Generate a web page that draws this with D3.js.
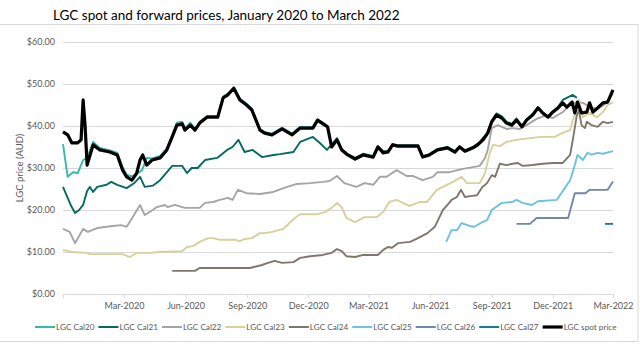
<!DOCTYPE html>
<html>
<head>
<meta charset="utf-8">
<script src="https://cdn.jsdelivr.net/npm/d3@7"></script>
<style>
  body { margin: 0; background: #fff; }
  svg { display: block; font-family: Lato, "Open Sans", sans-serif; }
</style>
</head>
<body>
<div class="chart"></div>
<script>
// LGC spot and forward prices

const title = "LGC spot and forward prices, January 2020 to March 2022";
const yTicks = [0, 10, 20, 30, 40, 50, 60];
const xTicks = ["2019-12-01", "2020-03-01", "2020-06-01", "2020-09-01", "2020-12-01",
  "2021-03-01", "2021-06-01", "2021-09-01", "2021-12-01", "2022-03-01"];
const seriesNames = ["LGC Cal20", "LGC Cal21", "LGC Cal22", "LGC Cal23", "LGC Cal24",
  "LGC Cal25", "LGC Cal26", "LGC Cal27", "LGC spot price"];
const seriesColors = ["#35b9ab", "#046b5f", "#a5a5a5", "#d6d19c", "#7f776c",
  "#6dc3db", "#7387a7", "#1b7d93", "#000000"];

const cal20 = [["2019-12-01",35.7],["2019-12-08",27.9],["2019-12-16",29],["2019-12-23",28.8],["2019-12-31",31.9],
  ["2020-01-06",32.4],["2020-01-15",36.2],["2020-01-25",34.8],["2020-02-09",34.2],["2020-02-20",33.6],
  ["2020-02-28",30.2],["2020-03-05",28.4],["2020-03-13",28],["2020-03-20",28.6],["2020-03-28",29.5],
  ["2020-04-04",32.4],["2020-04-12",32.3],["2020-04-24",32.9],["2020-05-04",34.7],["2020-05-12",37.8],
  ["2020-05-19",40.8],["2020-05-27",41],["2020-05-31",39.5],["2020-06-08",40.8],["2020-06-15",39.4],
  ["2020-06-22",41],["2020-07-03",42.4],["2020-07-19",42.4],["2020-07-27",47],["2020-08-03",47.7],
  ["2020-08-12",49.2],["2020-08-21",46.6],["2020-08-31",45.3],["2020-09-08",44.1],["2020-09-20",39.3],
  ["2020-09-27",38.6],["2020-10-08",38.2],["2020-10-23",39.6],["2020-11-07",38.2],["2020-11-19",39.8],
  ["2020-12-08",39.8],["2020-12-15",41.6],["2020-12-26",40.5],["2020-12-30",40]];

const cal21 = [["2019-12-01",25.5],["2019-12-05",24],["2019-12-13",21],["2019-12-19",19.3],["2019-12-25",20],
  ["2019-12-31",21.2],["2020-01-06",24.5],["2020-01-10",25.5],["2020-01-15",24.3],["2020-01-21",25.5],
  ["2020-02-04",26],["2020-02-11",26.7],["2020-02-20",26],["2020-03-05",25.2],["2020-03-17",26.5],
  ["2020-03-25",27.9],["2020-04-01",25.5],["2020-04-13",25.8],["2020-04-24",27.1],["2020-05-12",30.5],
  ["2020-05-27",30.5],["2020-06-03",28.8],["2020-06-10",30],["2020-06-19",30],["2020-06-30",31.9],
  ["2020-07-18",32.4],["2020-08-02",34.3],["2020-08-10",35],["2020-08-19",36.7],["2020-08-28",33.8],
  ["2020-09-09",34.3],["2020-09-23",32.6],["2020-10-10",33.1],["2020-10-20",33.3],["2020-11-09",33.8],
  ["2020-11-19",36.2],["2020-12-08",37.4],["2020-12-18",36],["2020-12-29",34.3],["2021-01-13",37.1],
  ["2021-01-20",34.5],["2021-01-29",33.3],["2021-02-09",32.4],["2021-02-21",33.4],["2021-03-08",32.8],
  ["2021-03-15",35.2],["2021-03-23",34],["2021-03-30",34],["2021-04-06",35.7],["2021-04-14",35.4],
  ["2021-05-14",35.4],["2021-05-21",32.8],["2021-05-31",33.3],["2021-06-12",34.5],["2021-06-27",35],
  ["2021-07-08",34],["2021-07-15",35.2],["2021-07-23",34.2],["2021-08-04",35],["2021-08-14",36.2],
  ["2021-08-26",38.5],["2021-09-01",41.3],["2021-09-08",43],["2021-09-16",42.3],["2021-09-23",41],
  ["2021-10-01",40.5],["2021-10-08",41.8],["2021-10-16",40],["2021-10-23",41.6],["2021-11-01",42.8],
  ["2021-11-09",44.5],["2021-11-16",43.3],["2021-11-24",42.3],["2021-12-01",43.5],["2021-12-09",44.5],
  ["2021-12-16",46.2],["2021-12-31",47.4],["2022-01-06",46.7]];

const cal22 = [["2019-12-01",15.5],["2019-12-11",14.8],["2019-12-19",12.1],["2019-12-31",15.5],["2020-01-07",14.8],
  ["2020-01-21",15.7],["2020-02-13",16.2],["2020-02-26",16.4],["2020-03-05",16],["2020-03-14",18.3],
  ["2020-03-25",21.2],["2020-04-01",18.8],["2020-04-13",20],["2020-04-19",20.7],["2020-05-01",21.2],
  ["2020-05-05",20.7],["2020-05-16",21.2],["2020-05-31",20.5],["2020-06-22",20.5],["2020-06-30",21.7],
  ["2020-07-12",21.9],["2020-07-22",22.4],["2020-08-03",22.9],["2020-08-10",22.4],["2020-08-18",24.8],
  ["2020-08-31",24],["2020-09-20",23.8],["2020-10-10",24.3],["2020-10-25",25.2],["2020-11-14",26.2],
  ["2020-12-04",26.4],["2020-12-23",26.7],["2021-01-02",26.9],["2021-01-13",28.1],["2021-01-24",26.4],
  ["2021-02-11",25.5],["2021-02-23",26.4],["2021-03-08",26],["2021-03-18",27.9],["2021-03-28",27.9],
  ["2021-04-12",29.5],["2021-04-27",28.1],["2021-05-06",28.1],["2021-05-21",27.1],["2021-06-05",27.9],
  ["2021-06-12",29],["2021-06-30",29],["2021-07-20",29.8],["2021-08-04",30.2],["2021-08-14",30.5],
  ["2021-08-22",32.4],["2021-08-26",34.3],["2021-09-01",39.5],["2021-09-10",40.2],["2021-09-23",39.3],
  ["2021-10-02",39.5],["2021-10-13",39.3],["2021-10-23",40.2],["2021-11-07",41.7],["2021-11-20",42.5],
  ["2021-12-01",41.9],["2021-12-16",43.3],["2021-12-27",45],["2022-01-06",45.7],["2022-01-15",45.5],
  ["2022-01-25",44.6],["2022-02-06",44],["2022-02-17",45.2],["2022-03-01",47.8]];

const cal23 = [["2019-12-01",10.5],["2019-12-14",10],["2020-01-06",9.8],["2020-01-10",9.5],["2020-02-28",9.5],
  ["2020-03-10",8.8],["2020-03-20",9.8],["2020-04-09",9.8],["2020-04-24",10],["2020-05-27",10.2],
  ["2020-06-03",11.2],["2020-06-12",11.4],["2020-06-22",12.4],["2020-07-05",13.3],["2020-07-12",13.3],
  ["2020-07-22",12.9],["2020-08-14",12.9],["2020-08-21",12.6],["2020-08-28",13.1],["2020-09-08",13.3],
  ["2020-09-20",14.5],["2020-09-27",14.5],["2020-10-08",14.8],["2020-10-25",15.5],["2020-11-03",16.9],
  ["2020-11-11",18.1],["2020-11-19",19],["2020-12-15",19],["2020-12-26",19.5],["2021-01-05",20.5],
  ["2021-01-13",21.7],["2021-01-20",20.7],["2021-01-27",18.1],["2021-02-09",17.1],["2021-02-23",18.3],
  ["2021-03-13",18.3],["2021-03-23",19.5],["2021-04-01",21.9],["2021-04-12",22.4],["2021-05-01",21],
  ["2021-05-16",21.9],["2021-05-27",21.9],["2021-06-05",23.6],["2021-06-11",24.8],["2021-06-20",25.5],
  ["2021-07-05",26.7],["2021-07-18",27.9],["2021-07-26",26.4],["2021-08-14",26.4],["2021-08-22",28.8],
  ["2021-08-29",33.6],["2021-09-03",35.5],["2021-09-13",35.2],["2021-09-23",36.2],["2021-10-08",36.7],
  ["2021-10-28",37.1],["2021-11-14",37.4],["2021-12-04",37.4],["2021-12-15",38.3],["2021-12-27",39],
  ["2021-12-31",41.4],["2022-01-06",44],["2022-01-09",46.2],["2022-01-15",42.1],["2022-01-25",43.1],
  ["2022-02-05",42.1],["2022-02-14",43.3],["2022-02-21",45],["2022-03-01",45.6]];

const cal24 = [["2020-05-12",5.5],["2020-06-15",5.5],["2020-06-22",6.2],["2020-09-05",6.2],["2020-09-23",6.9],
  ["2020-10-02",7.4],["2020-10-12",7.9],["2020-10-23",7.4],["2020-11-09",7.6],["2020-11-19",8.6],
  ["2020-12-04",9],["2020-12-23",9.3],["2021-01-05",9.8],["2021-01-13",10.7],["2021-01-20",10.2],
  ["2021-01-27",9],["2021-02-09",8.8],["2021-02-21",9.3],["2021-03-15",9.3],["2021-03-23",10.5],
  ["2021-03-30",11.2],["2021-04-05",11],["2021-04-14",12.1],["2021-05-02",12.4],["2021-05-14",13.3],
  ["2021-05-28",14.5],["2021-06-08",16],["2021-06-15",18.3],["2021-06-20",20],["2021-06-27",21.2],
  ["2021-07-03",22.4],["2021-07-11",23.1],["2021-07-17",24.8],["2021-07-23",23.1],["2021-07-31",23.3],
  ["2021-08-10",23.5],["2021-08-18",25.5],["2021-08-25",26.4],["2021-09-01",28.3],["2021-09-06",27.9],
  ["2021-09-13",31],["2021-09-23",30.7],["2021-10-02",31],["2021-10-10",31.2],["2021-10-17",30.5],
  ["2021-11-01",30.7],["2021-11-16",31],["2021-12-01",31.2],["2021-12-16",31.2],["2021-12-27",33.1],
  ["2021-12-31",36.7],["2022-01-06",42.6],["2022-01-09",43.8],["2022-01-13",40.2],["2022-01-18",39.5],
  ["2022-01-21",41],["2022-01-28",40.2],["2022-02-06",39.8],["2022-02-14",41],["2022-02-21",40.7],
  ["2022-03-01",41]];

const cal25 = [["2021-06-25",12.4],["2021-07-03",15.2],["2021-07-11",15.2],["2021-07-18",16.9],["2021-07-30",16.2],
  ["2021-08-06",16],["2021-08-18",17.1],["2021-08-25",17.6],["2021-09-01",20],["2021-09-16",21.7],
  ["2021-10-01",21.9],["2021-10-08",22.4],["2021-10-17",21.7],["2021-10-31",21.2],["2021-11-09",22.1],
  ["2021-12-07",22.4],["2021-12-16",24.5],["2021-12-27",27.1],["2022-01-03",30.7],["2022-01-07",33.1],
  ["2022-01-15",31.9],["2022-01-22",33.6],["2022-01-28",33.2],["2022-02-06",33.6],["2022-02-14",33.4],
  ["2022-03-01",34]];

const cal26 = [["2021-10-08",16.7],["2021-10-28",16.7],["2021-11-07",18.1],["2021-12-24",18.1],["2022-01-03",24],
  ["2022-01-19",24],["2022-01-25",24.8],["2022-02-21",24.8],["2022-03-01",26.8]];

const cal27 = [["2022-02-17",16.7],["2022-03-01",16.7]];

const spot = [["2019-12-01",38.6],["2019-12-08",37.9],["2019-12-14",36],["2019-12-23",36],["2019-12-28",36.7],
  ["2019-12-31",46.2],["2020-01-03",40],["2020-01-06",30.7],["2020-01-15",35.5],["2020-01-25",34.3],
  ["2020-02-09",33.8],["2020-02-20",33.1],["2020-02-28",29.5],["2020-03-05",27.9],["2020-03-13",27.1],
  ["2020-03-20",28.8],["2020-03-25",31.9],["2020-03-29",33.1],["2020-04-04",30.7],["2020-04-12",31.9],
  ["2020-04-24",32.4],["2020-05-04",34.3],["2020-05-12",37.4],["2020-05-19",40.2],["2020-05-27",40.5],
  ["2020-05-31",39],["2020-06-08",40.2],["2020-06-15",39],["2020-06-22",40.7],["2020-07-03",42.1],
  ["2020-07-19",42.1],["2020-07-27",46.7],["2020-08-03",47.4],["2020-08-12",49],["2020-08-21",46.2],
  ["2020-08-31",45],["2020-09-08",43.8],["2020-09-20",39],["2020-09-27",38.3],["2020-10-08",37.9],
  ["2020-10-23",39.3],["2020-11-07",37.9],["2020-11-19",39.5],["2020-12-08",39.5],["2020-12-15",41.4],
  ["2020-12-26",40.2],["2020-12-30",39.8],["2021-01-05",35],["2021-01-13",36.7],["2021-01-20",34.3],
  ["2021-01-29",33.1],["2021-02-09",32.1],["2021-02-21",33.1],["2021-03-08",32.6],["2021-03-15",35],
  ["2021-03-23",33.6],["2021-03-30",33.8],["2021-04-06",35.5],["2021-04-14",35.2],["2021-05-14",35.2],
  ["2021-05-21",32.6],["2021-05-31",33.1],["2021-06-12",34.3],["2021-06-27",34.8],["2021-07-08",33.8],
  ["2021-07-15",35],["2021-07-23",34],["2021-08-04",34.8],["2021-08-11",35.5],["2021-08-19",36.7],
  ["2021-08-26",38.3],["2021-09-01",41],["2021-09-08",42.6],["2021-09-16",41.9],["2021-09-23",40.7],
  ["2021-10-01",40.2],["2021-10-08",41.4],["2021-10-16",39.8],["2021-10-23",41.4],["2021-11-01",42.6],
  ["2021-11-09",44.3],["2021-11-16",43.1],["2021-11-24",42.1],["2021-12-01",43.3],["2021-12-09",44.3],
  ["2021-12-16",45.5],["2021-12-22",44.5],["2021-12-30",45.7],["2022-01-03",43.1],["2022-01-07",45.7],
  ["2022-01-13",43.1],["2022-01-21",43.3],["2022-01-25",45.5],["2022-01-30",43.3],["2022-02-06",44.3],
  ["2022-02-14",45.5],["2022-02-21",45.7],["2022-03-01",48.6]];

const allSeries = [cal20, cal21, cal22, cal23, cal24, cal25, cal26, cal27, spot];

const width = 640, height = 348;
const parse = d3.timeParse("%Y-%m-%d");

const svg = d3.select(".chart").append("svg")
    .attr("width", width)
    .attr("height", height);

// frame round the chart
svg.append("rect")
    .attr("x", -2).attr("y", 24.5)
    .attr("width", 640).attr("height", 317)
    .attr("fill", "none")
    .attr("stroke", "#d9d9d9");

svg.append("text")
    .attr("x", 53).attr("y", 20)
    .attr("font-size", 13.5)
    .attr("fill", "#000")
    .text(title);

const x = d3.scaleTime()
    .domain([parse(xTicks[0]), parse(xTicks[xTicks.length - 1])])
    .range([63, 613]);
const y = d3.scaleLinear().domain([0, 60]).range([294, 42]);

// gridlines + y labels
const yAxis = svg.append("g")
    .attr("transform", "translate(63,0)")
    .call(d3.axisLeft(y).tickValues(yTicks).tickSize(-550).tickPadding(8)
        .tickFormat(d => "$" + d3.format(".2f")(d)));
yAxis.select(".domain").remove();
yAxis.selectAll(".tick line").attr("stroke", "#d9d9d9");
yAxis.selectAll(".tick:first-of-type line").remove();
yAxis.selectAll("text").attr("fill", "#595959").attr("font-size", 9).attr("font-family", "Lato, sans-serif");

svg.append("text")
    .attr("transform", "translate(23,168) rotate(-90)")
    .attr("text-anchor", "middle")
    .attr("font-size", 9.5)
    .attr("fill", "#595959")
    .text("LGC price (AUD)");

const xAxis = svg.append("g")
    .attr("transform", "translate(0,294)")
    .call(d3.axisBottom(x).tickValues(xTicks.map(parse)).tickSize(4).tickPadding(5)
        .tickFormat((d, i) => i === 0 ? "" : d3.timeFormat("%b-%Y")(d)));
xAxis.select(".domain").attr("stroke", "#d9d9d9");
xAxis.selectAll(".tick line").attr("stroke", "#d9d9d9");
xAxis.selectAll("text").attr("fill", "#595959").attr("font-size", 9).attr("font-family", "Lato, sans-serif");

const line = d3.line()
    .x(d => x(parse(d[0])))
    .y(d => y(d[1]));

allSeries.forEach((s, i) => {
    svg.append("path")
        .datum(s)
        .attr("fill", "none")
        .attr("stroke", seriesColors[i])
        .attr("stroke-width", i === 8 ? 3.2 : 1.9)
        .attr("stroke-linejoin", "round")
        .attr("d", line);
});

// legend
let lx = 35;
const legend = svg.append("g").attr("font-size", 8.2).attr("fill", "#595959");
seriesNames.forEach((name, i) => {
    legend.append("line")
        .attr("x1", lx).attr("x2", lx + 20)
        .attr("y1", 327).attr("y2", 327)
        .attr("stroke", seriesColors[i])
        .attr("stroke-width", i === 8 ? 3.2 : 2);
    const t = legend.append("text")
        .attr("x", lx + 21).attr("y", 330)
        .text(name);
    lx += 21 + t.node().getComputedTextLength() + 4;
});
</script>
</body>
</html>
